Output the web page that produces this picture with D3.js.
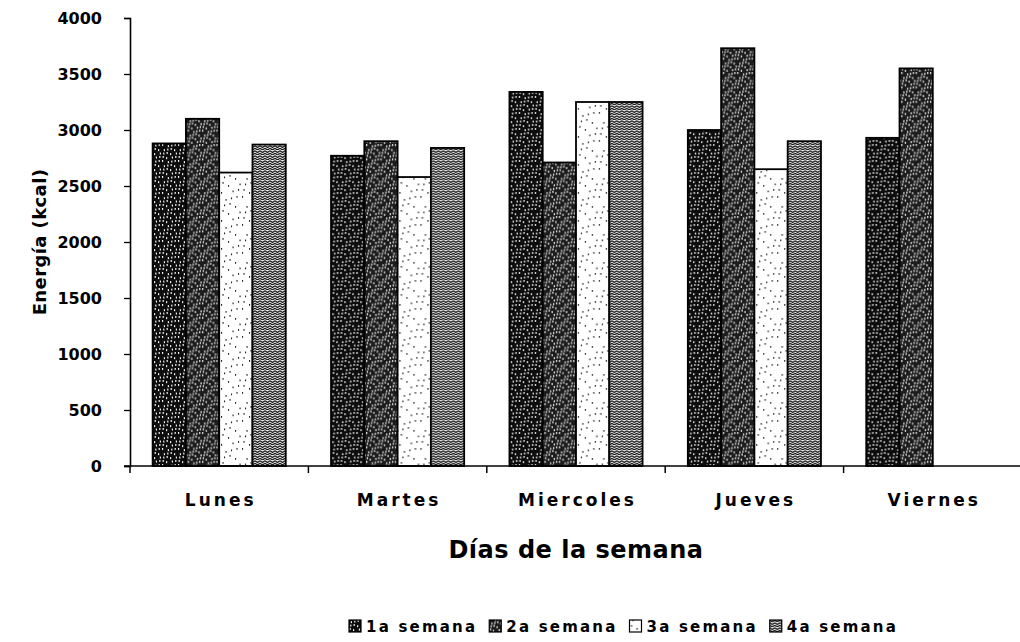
<!DOCTYPE html>
<html>
<head>
<meta charset="utf-8">
<script src="https://cdn.jsdelivr.net/npm/d3@7"></script>
<style>
  html, body { margin: 0; padding: 0; background: #fff; }
  svg { display: block; }
  text { font-family: "DejaVu Sans", "Liberation Sans", Arial, sans-serif; font-weight: bold; fill: #000; }
</style>
</head>
<body>
<svg id="chart" width="1020" height="642"></svg>
<script>
// Daily energy intake per week
const days = ["Lunes", "Martes", "Miercoles", "Jueves", "Viernes"];
const weeks = ["1a semana", "2a semana", "3a semana", "4a semana"];
const week1 = [2880, 2770, 3340, 3000, 2930];
const week2 = [3100, 2900, 2710, 3730, 3550];
const week3 = [2620, 2580, 3250, 2650, null];
const week4 = [2870, 2840, 3250, 2900, null];
const yTicks = [0, 500, 1000, 1500, 2000, 2500, 3000, 3500, 4000];

const series = [week1, week2, week3, week4];

const svg = d3.select("#chart");
const margin = { left: 130, right: -2, top: 18, bottom: 176 };
const W = 1020, H = 642;

// Stipple fills for each week
const defs = svg.append("defs");
function stipple(id, bg, fg, step, r, jitter) {
  const p = defs.append("pattern").attr("id", id)
    .attr("patternUnits", "userSpaceOnUse")
    .attr("width", step * 4).attr("height", step * 4);
  p.append("rect").attr("width", step * 4).attr("height", step * 4).attr("fill", bg);
  for (let i = 0; i < 4; i++) {
    for (let j = 0; j < 4; j++) {
      const ox = ((i * 7 + j * 3) % 4) * jitter;
      const oy = ((i * 5 + j * 2) % 3) * jitter;
      p.append("rect")
        .attr("x", i * step + ox).attr("y", j * step + oy)
        .attr("width", r).attr("height", r * 1.6)
        .attr("fill", fg);
    }
  }
}
stipple("p1", "#0d0d0d", "#f4f4f4", 4, 1.2, 0.6);
stipple("p2", "#1c1c1c", "#d8d8d8", 3.6, 1.3, 0.7);
stipple("p3", "#fff", "#222", 7, 1.1, 1.5);
(function () {
  const p = defs.append("pattern").attr("id", "p4")
    .attr("patternUnits", "userSpaceOnUse")
    .attr("width", 5).attr("height", 5);
  p.append("rect").attr("width", 5).attr("height", 5).attr("fill", "#e6e6e6");
  p.append("path").attr("d", "M0,0.8 L2.5,2.5 L5,0.8 M0,3.3 L2.5,5 L5,3.3")
    .attr("stroke", "#1a1a1a").attr("stroke-width", 1.2).attr("fill", "none");
})();
const fills = ["url(#p1)", "url(#p2)", "url(#p3)", "url(#p4)"];

const x0 = d3.scaleBand().domain(days)
  .range([margin.left, W - margin.right]).paddingInner(0).paddingOuter(0);
const x1 = d3.scaleBand().domain(d3.range(weeks.length))
  .range([0, x0.bandwidth()]).paddingOuter(0.68).paddingInner(0);
const y = d3.scaleLinear().domain([0, 4000]).range([H - margin.bottom, margin.top]);

// Bars
const groups = svg.append("g").selectAll("g").data(days).join("g")
  .attr("transform", d => `translate(${x0(d)},0)`);
groups.selectAll("rect")
  .data((d, i) => series.map((s, k) => ({ k, v: s[i] })).filter(e => e.v != null))
  .join("rect")
  .attr("x", e => x1(e.k))
  .attr("y", e => y(e.v))
  .attr("width", x1.bandwidth())
  .attr("height", e => y(0) - y(e.v))
  .attr("fill", e => fills[e.k])
  .attr("stroke", "#000")
  .attr("stroke-width", 1.8);

// Y axis
const yAxis = svg.append("g")
  .attr("transform", `translate(${margin.left},0)`)
  .call(d3.axisLeft(y).tickValues(yTicks).tickSize(6).tickPadding(22).tickFormat(d3.format("d")));
yAxis.select(".domain").attr("stroke", "#000").attr("stroke-width", 1.6);
yAxis.selectAll(".tick line").attr("stroke", "#000").attr("stroke-width", 1.3);
yAxis.selectAll(".tick text")
  .style("font-size", "16px")
  .style("font-family", "DejaVu Sans, Liberation Sans, Arial, sans-serif")
  .style("font-weight", "bold");

// X axis with ticks at category boundaries
const xAxis = svg.append("g").attr("transform", `translate(0,${y(0)})`);
xAxis.append("line")
  .attr("x1", margin.left - 6).attr("x2", W)
  .attr("y1", 0).attr("y2", 0)
  .attr("stroke", "#000").attr("stroke-width", 1.6);
xAxis.selectAll("line.bt").data(days).join("line").attr("class", "bt")
  .attr("x1", d => x0(d)).attr("x2", d => x0(d))
  .attr("y1", 0).attr("y2", 7)
  .attr("stroke", "#000").attr("stroke-width", 1.5);
xAxis.selectAll("text").data(days).join("text")
  .attr("x", d => x0(d) + x0.bandwidth() / 2 + 1.5)
  .attr("y", 506 - y(0))
  .attr("text-anchor", "middle")
  .style("font-size", "17px")
  .style("letter-spacing", "3px")
  .text(d => d);

// Axis titles
svg.append("text")
  .attr("x", 576).attr("y", 558)
  .attr("text-anchor", "middle")
  .style("font-size", "24px")
  .style("letter-spacing", "0.5px")
  .text("Días de la semana");
svg.append("text")
  .attr("transform", `translate(46,${y(2000)}) rotate(-90)`)
  .attr("text-anchor", "middle")
  .style("font-size", "18px")
  .style("letter-spacing", "0.4px")
  .text("Energía (kcal)");

// Legend
const legend = svg.append("g").attr("transform", "translate(349,632)");
let lx = 0;
weeks.forEach((w, k) => {
  const g = legend.append("g").attr("transform", `translate(${lx},0)`);
  g.append("rect").attr("x", 0).attr("y", -12).attr("width", 12).attr("height", 12)
    .attr("fill", fills[k]).attr("stroke", "#000").attr("stroke-width", 1.2);
  const t = g.append("text").attr("x", 17).attr("y", 0)
    .style("font-size", "15px")
    .style("letter-spacing", "2.2px")
    .text(w);
  lx += 17 + t.node().getComputedTextLength() + 12;
});
</script>
</body>
</html>
